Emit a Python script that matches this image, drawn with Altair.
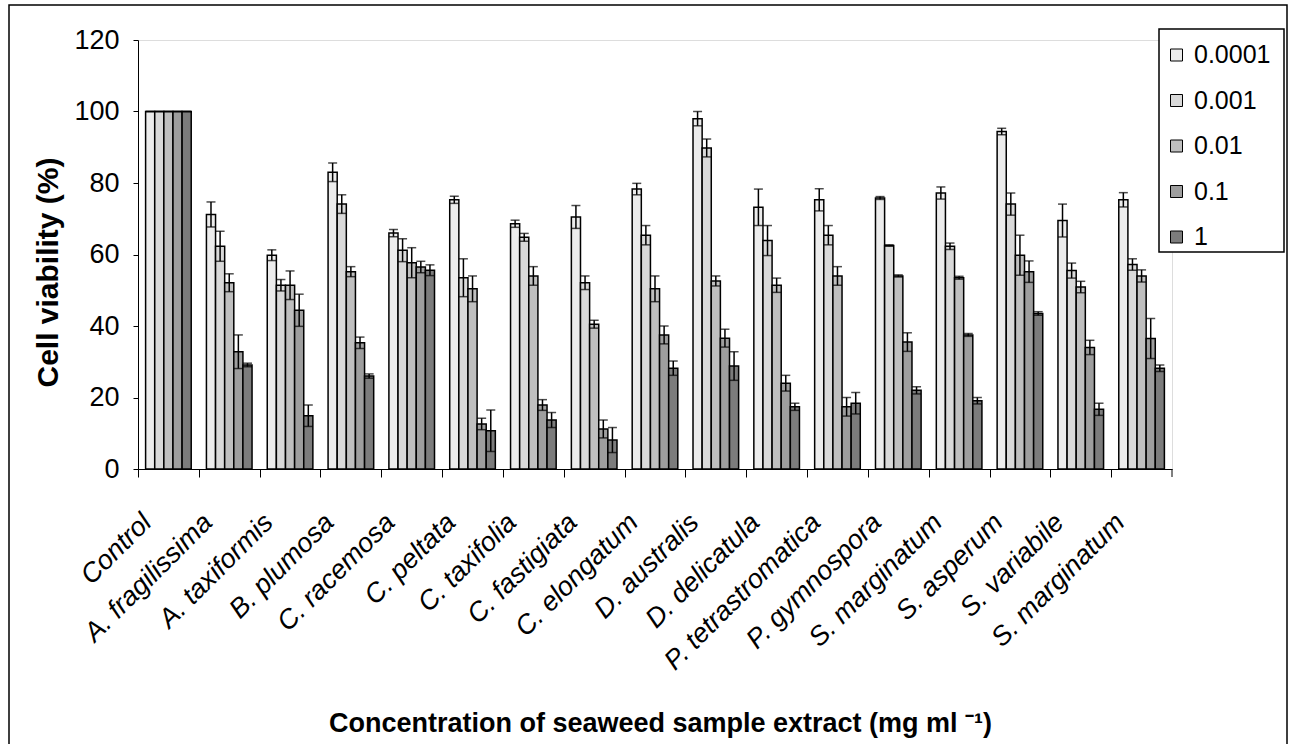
import json
import altair as alt
import pandas as pd

categories = ["Control", "A. fragilissima", "A. taxiformis", "B. plumosa", "C. racemosa",
              "C. peltata", "C. taxifolia", "C. fastigiata", "C. elongatum", "D. australis",
              "D. delicatula", "P. tetrastromatica", "P. gymnospora", "S. marginatum",
              "S. asperum", "S. variabile", "S. marginatum"]

series = ["0.0001", "0.001", "0.01", "0.1", "1"]

v_0001 = [100, 71.2, 59.8, 83.0, 66.0, 75.3, 68.6, 70.5, 78.3, 98.0, 73.2, 75.3, 75.8, 77.2, 94.4, 69.5, 75.3]
e_0001 = [0, 3.5, 1.5, 2.6, 1.0, 1.0, 1.0, 3.2, 1.6, 2.0, 5.1, 3.1, 0.4, 1.7, 0.9, 4.6, 2.0]
v_001 = [100, 62.3, 51.4, 74.1, 61.2, 53.5, 64.8, 52.1, 65.4, 89.8, 63.9, 65.4, 62.5, 62.3, 74.1, 55.5, 57.2]
e_001 = [0, 4.2, 1.6, 2.6, 3.2, 5.3, 1.1, 1.9, 2.7, 2.5, 4.2, 2.7, 0.2, 0.9, 3.1, 2.1, 1.6]
v_01 = [100, 52.1, 51.4, 55.2, 57.7, 50.4, 54.0, 40.5, 50.4, 52.6, 51.4, 54.0, 54.0, 53.5, 59.8, 50.9, 54.0]
e_01 = [0, 2.5, 4.0, 1.4, 4.2, 3.6, 2.6, 1.1, 3.6, 1.4, 2.0, 2.6, 0.3, 0.4, 5.6, 1.6, 1.7]
v_1 = [100, 32.8, 44.4, 35.3, 56.5, 12.6, 17.9, 11.2, 37.5, 36.6, 24.0, 17.4, 35.5, 37.5, 55.2, 34.0, 36.5]
e_1 = [0, 4.7, 4.5, 1.6, 1.6, 1.6, 1.5, 2.5, 2.5, 2.5, 2.2, 2.6, 2.6, 0.4, 3.0, 2.0, 5.6]
v1 = [100, 29.1, 14.9, 26.0, 55.6, 10.7, 13.7, 8.1, 28.2, 28.8, 17.4, 18.4, 22.0, 19.1, 43.5, 16.7, 28.2]
e1 = [0, 0.5, 3.0, 0.6, 1.5, 5.8, 2.1, 3.5, 2.0, 4.0, 1.0, 3.0, 1.0, 0.9, 0.5, 1.7, 0.9]

values = [v_0001, v_001, v_01, v_1, v1]
errors = [e_0001, e_001, e_01, e_1, e1]
colors = ["#ececec", "#d9d9d9", "#bfbfbf", "#9e9e9e", "#7c7c7c"]

rows = []
for s, vals, errs in zip(series, values, errors):
    for i, (v, e) in enumerate(zip(vals, errs)):
        rows.append({"idx": i, "series": s, "v": v, "lo": v - e, "hi": v + e})
df = pd.DataFrame(rows)

FONT = "Liberation Sans"
W, H = 1034, 429

label_expr = json.dumps(categories) + "[datum.value]"

x_enc = alt.X("idx:O",
              scale=alt.Scale(paddingInner=0.25, paddingOuter=0.125),
              axis=alt.Axis(title="Concentration of seaweed sample extract (mg ml \u207b\u00b9)",
                            labelExpr=label_expr, labelAngle=-45, labelAlign="right",
                            labelBaseline="middle", labelFontStyle="italic", labelFontSize=27,
                            labelFont=FONT, labelPadding=41, labelOffset=-14, labelLimit=500,
                            bandPosition=0, tickOffset=-7.6, tickSize=8, tickColor="black",
                            domainColor="black", labelColor="black",
                            titleFont=FONT, titleFontSize=27, titleFontWeight="bold",
                            titleColor="black", titleX=522, titleY=262,
                            titleAlign="center", titleBaseline="alphabetic"))
xo_enc = alt.XOffset("series:N", sort=series, scale=alt.Scale(paddingInner=0, paddingOuter=0))

y_axis = alt.Axis(title="Cell viability (%)", values=[0, 20, 40, 60, 80, 100, 120],
                  grid=False, tickSize=5, tickColor="black", domainColor="black",
                  labelFont=FONT, labelFontSize=27, labelColor="black", labelPadding=14,
                  titleFont=FONT, titleFontSize=30, titleFontWeight="bold", titleColor="black",
                  titleAngle=270, titleX=-81, titleY=232, titleAlign="center",
                  titleBaseline="alphabetic")
y_scale = alt.Scale(domain=[0, 120])

base = alt.Chart(df)

bars = base.mark_bar(stroke="black", strokeWidth=1.5).encode(
    x=x_enc, xOffset=xo_enc,
    y=alt.Y("v:Q", scale=y_scale, axis=y_axis),
    color=alt.Color("series:N", sort=series,
                    scale=alt.Scale(domain=series, range=colors),
                    legend=alt.Legend(title=None, orient="none", legendX=1026, legendY=2.5,
                                      symbolType="square", symbolSize=144,
                                      symbolStrokeColor="black", symbolStrokeWidth=1,
                                      symbolOpacity=1, labelFont=FONT, labelFontSize=25,
                                      labelColor="black", labelOffset=5, rowPadding=19.5,
                                      padding=0)),
)

rules = base.mark_rule(color="black", strokeWidth=1.5).encode(
    x=x_enc, xOffset=xo_enc,
    y=alt.Y("lo:Q", scale=y_scale, axis=y_axis), y2="hi:Q",
)
caps_hi = base.mark_tick(color="black", thickness=1.5, size=9, orient="horizontal").encode(
    x=x_enc, xOffset=xo_enc, y=alt.Y("hi:Q", scale=y_scale, axis=y_axis),
)
caps_lo = base.mark_tick(color="black", thickness=1.5, size=9, orient="horizontal").encode(
    x=x_enc, xOffset=xo_enc, y=alt.Y("lo:Q", scale=y_scale, axis=y_axis),
)

one = alt.Data(values=[{"k": 1}])
frame = alt.Chart(one).mark_rect(fill="transparent", stroke="black", strokeWidth=1.5, clip=False).encode(
    x=alt.value(-129), x2=alt.value(1149), y=alt.value(-35), y2=alt.value(730))
legend_box = alt.Chart(one).mark_rect(fill="white", stroke="black", strokeWidth=1.5, clip=False).encode(
    x=alt.value(1021), x2=alt.value(1146), y=alt.value(-11), y2=alt.value(212))
last_tick = alt.Chart(one).mark_rule(color="black", strokeWidth=1).encode(
    x=alt.value(W), y=alt.value(H), y2=alt.value(H + 8))

chart = alt.layer(frame, legend_box, bars, rules, caps_hi, caps_lo, last_tick).properties(
    width=W, height=H, autosize="none",
    padding={"left": 138, "top": 40, "right": 1293 - 138 - W, "bottom": 744 - 40 - H},
).configure_view(stroke=None).configure(background="white")

chart.save("out.html", embed_options={"renderer": "svg", "actions": False})
